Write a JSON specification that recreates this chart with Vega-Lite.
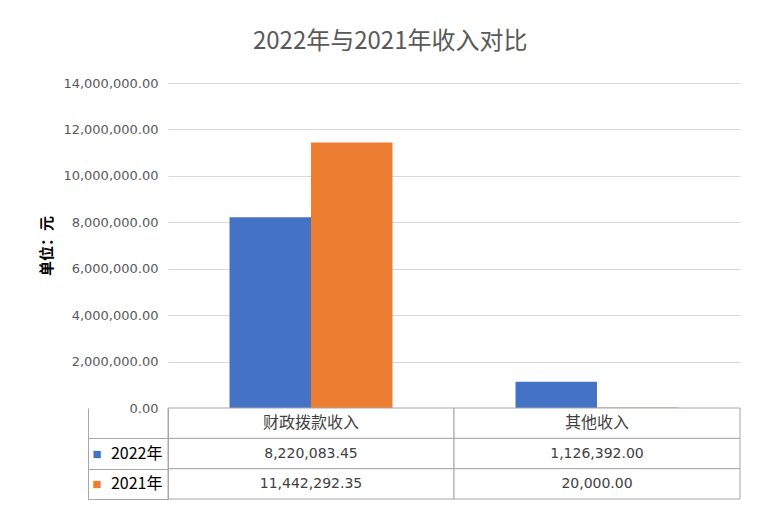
{
  "$schema": "https://vega.github.io/schema/vega-lite/v6.json",
  "background": "white",
  "padding": {"left": 39, "top": 30, "right": 20, "bottom": 10},
  "config": {"view": {"stroke": null}},
  "title": {"text": "2022年与2021年收入对比", "fontSize": 24, "font": "Noto Sans CJK SC", "fontWeight": "normal", "color": "#595959", "anchor": "middle", "offset": 23},
  "datasets": {
    "income": [
      {"category": "财政拨款收入", "year": "2022年", "value": 8220083.45},
      {"category": "财政拨款收入", "year": "2021年", "value": 11442292.35},
      {"category": "其他收入", "year": "2022年", "value": 1126392.00},
      {"category": "其他收入", "year": "2021年", "value": 20000.00}
    ]
  },
  "bounds": "flush",
  "spacing": 0,
  "vconcat": [
    {
      "width": 572,
      "height": 325,
      "data": {"name": "income"},
      "mark": {"type": "bar"},
      "encoding": {
        "x": {"field": "category", "type": "nominal", "sort": ["财政拨款收入", "其他收入"], "scale": {"paddingInner": 0, "paddingOuter": 0}, "axis": null},
        "xOffset": {"field": "year", "type": "nominal", "sort": ["2022年", "2021年"], "scale": {"paddingInner": 0, "paddingOuter": 0.755}},
        "y": {"field": "value", "type": "quantitative", "scale": {"domain": [0, 14000000]},
          "axis": {"values": [0, 2000000, 4000000, 6000000, 8000000, 10000000, 12000000, 14000000], "format": ",.2f", "title": "单位：元", "titleFont": "Noto Sans CJK SC", "titleFontSize": 15, "titleFontWeight": "bold", "titleColor": "#000000", "titlePadding": 8, "labelFont": "DejaVu Sans", "labelFontSize": 13, "labelColor": "#595959", "labelPadding": 10, "domain": false, "ticks": false, "grid": true, "gridColor": "#d9d9d9", "gridWidth": 1}},
        "color": {"field": "year", "type": "nominal", "scale": {"domain": ["2022年", "2021年"], "range": ["#4472C4", "#ED7D31"]}, "legend": null}
      }
    },
    {
      "width": 572,
      "height": 91,
      "data": {"name": "income"},
      "resolve": {"axis": {"y": "independent"}},
      "layer": [
        {
          "mark": {"type": "rect", "fill": "white", "stroke": "#a6a6a6", "strokeWidth": 1},
          "encoding": {
            "x": {"field": "category", "type": "nominal", "sort": ["财政拨款收入", "其他收入"], "scale": {"paddingInner": 0, "paddingOuter": 0}, "axis": null},
            "y": {"field": "year", "type": "nominal", "scale": {"domain": [" ", "2022年", "2021年"], "paddingInner": 0, "paddingOuter": 0},
              "axis": {"title": null, "domain": true, "domainColor": "#a6a6a6", "ticks": true, "tickSize": 80, "tickColor": "#a6a6a6", "tickOffset": 15.17, "labelOffset": -15.17, "labelFont": "Noto Sans CJK SC", "labelFontSize": 16, "labelColor": "#000000", "labelPadding": -74}}
          }
        },
        {
          "transform": [{"aggregate": [{"op": "count", "as": "n"}], "groupby": ["category"]}],
          "mark": {"type": "rect", "fill": "white", "stroke": "#a6a6a6", "strokeWidth": 1},
          "encoding": {
            "x": {"field": "category", "type": "nominal", "sort": ["财政拨款收入", "其他收入"], "axis": null},
            "y": {"datum": " ", "type": "nominal", "axis": null}
          }
        },
        {
          "transform": [{"aggregate": [{"op": "count", "as": "n"}], "groupby": ["category"]}],
          "mark": {"type": "text", "font": "Noto Sans CJK SC", "fontSize": 16, "color": "#404040"},
          "encoding": {
            "x": {"field": "category", "type": "nominal", "sort": ["财政拨款收入", "其他收入"], "axis": null},
            "y": {"datum": " ", "type": "nominal", "axis": null},
            "text": {"field": "category", "type": "nominal"}
          }
        },
        {
          "mark": {"type": "text", "font": "DejaVu Sans", "fontSize": 14, "color": "#404040"},
          "encoding": {
            "x": {"field": "category", "type": "nominal", "sort": ["财政拨款收入", "其他收入"], "axis": null},
            "y": {"field": "year", "type": "nominal",
              "axis": {"orient": "left", "offset": 80, "title": null, "domain": true, "domainColor": "#a6a6a6", "ticks": false, "labelExpr": "datum.value == ' ' ? '' : '■'", "labelAlign": "left", "labelPadding": -4, "labelFontSize": 15, "labelColor": {"condition": {"test": "datum.value == '2022年'", "value": "#4472C4"}, "value": "#ED7D31"}}},
            "text": {"field": "value", "type": "quantitative", "format": ",.2f"}
          }
        }
      ]
    }
  ]
}
